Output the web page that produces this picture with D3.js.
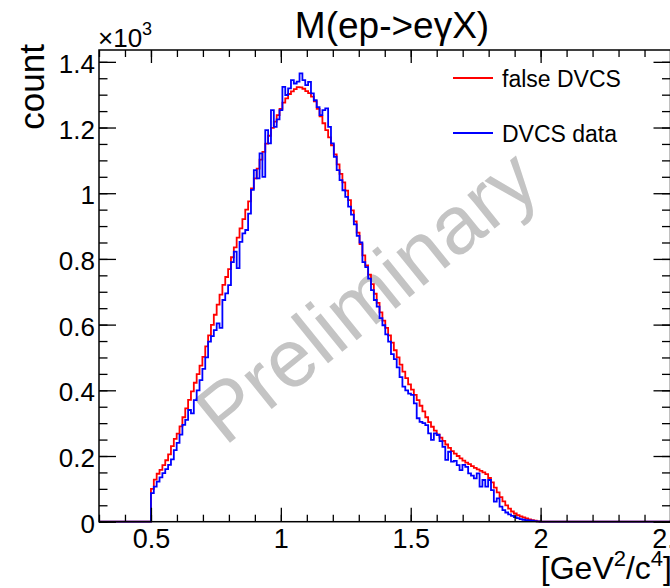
<!DOCTYPE html>
<html><head><meta charset="utf-8">
<script src="https://cdn.jsdelivr.net/npm/d3@7"></script>
<style>
body{margin:0;background:#fff;overflow:hidden}
svg{display:block}
text{font-family:"Liberation Sans",Arial,Helvetica,sans-serif;fill:#000}
</style>
</head><body>
<svg id="chart" width="670" height="588"></svg>
<script>
// Missing-mass histograms, M(ep->eγX): bins of 0.011 GeV²/c⁴ starting at 0.5
const binStart = 0.5;
const binWidth = 0.011;
const xDomain = [0.3, 2.5];
const yMax = 1436;

const falseDVCS = [
  100,128,146,158,172,187,205,230,252,268,
  290,318,345,371,397,423,449,475,502,534,
  567,599,630,661,691,721,745,769,805,835,
  865,893,921,950,975,1015,1045,1075,1102,1126,
  1151,1175,1199,1218,1238,1257,1276,1289,1302,1310,
  1317,1323,1322,1318,1311,1305,1294,1280,1257,1234,
  1213,1192,1170,1146,1118,1088,1059,1033,1008,979,
  948,914,880,845,811,780,752,723,694,666,
  637,612,590,567,545,522,500,478,457,437,
  418,402,386,370,353,336,318,303,289,277,
  266,256,246,235,225,215,207,200,193,186,
  180,175,169,164,159,155,150,145,133,120,
  104,89,75,62,50,40,31,25,20,16,
  13,10,7,5,3,1,0
];

const dvcsData = [
  87,107,122,135,148,160,173,190,218,240,
  265,295,310,340,330,370,400,431,465,500,
  548,565,583,604,590,675,695,720,790,822,
  772,852,878,888,938,1010,1070,1045,1121,1050,
  1192,1152,1253,1202,1225,1253,1324,1299,1319,1344,
  1334,1340,1365,1344,1329,1339,1304,1283,1262,1238,
  1253,1258,1202,1152,1111,1070,1040,1009,989,959,
  935,905,870,850,790,775,740,705,675,655,
  620,598,570,548,510,495,470,440,411,400,
  390,386,360,315,304,300,294,269,249,269,
  264,245,228,188,213,183,185,172,157,173,
  167,147,140,132,147,107,127,107,127,96,
  61,71,46,35,28,22,18,14,11,8,
  6,5,4,3,2,1,0
];

const seriesNames = ["false DVCS", "DVCS data"];
const seriesColors = ["#ff0000", "#0000ff"];

const xMajorTicks = [0.5, 1, 1.5, 2, 2.5];
const xTickLabels = ["0.5", "1", "1.5", "2", "2.5"];
const yMajorTicks = [0, 200, 400, 600, 800, 1000, 1200, 1400];
const yTickLabels = ["0", "0.2", "0.4", "0.6", "0.8", "1", "1.2", "1.4"];

const svg = d3.select("#chart");
const x = d3.scaleLinear().domain(xDomain).range([99, 670.5]);
const y = d3.scaleLinear().domain([0, yMax]).range([521.7, 50]);

const xMinor = d3.range(3, 26).map(d => d / 10);
const yMinor = d3.range(0, 29).map(d => d * 50);

// watermark behind the histograms
svg.append("text")
  .attr("transform", "translate(384,318) rotate(-39)")
  .attr("text-anchor", "middle")
  .style("font-size", "82px")
  .style("fill", "#c4c4c4")
  .text("Preliminary");

// histogram outlines
function histPoints(vals) {
  const pts = [[xDomain[0], 0]];
  vals.forEach((v, i) => pts.push([binStart + i * binWidth, v]));
  pts.push([binStart + vals.length * binWidth, 0]);
  pts.push([xDomain[1], 0]);
  return pts;
}
const line = d3.line().x(d => x(d[0])).y(d => y(d[1])).curve(d3.curveStepAfter);
[falseDVCS, dvcsData].forEach((vals, i) => {
  svg.append("path")
    .attr("d", line(histPoints(vals)))
    .attr("fill", "none")
    .attr("stroke", seriesColors[i])
    .attr("stroke-width", 1.8);
});

// axes: ticks drawn inward on all four sides
function styleAxis(g) {
  g.select(".domain").remove();
  g.selectAll("line").attr("stroke", "#000").attr("stroke-width", 1.3);
}
const yZero = y(0), yTop = y(yMax), xLeft = x(xDomain[0]), xRight = x(xDomain[1]);

svg.append("g").attr("transform", `translate(0,${yZero})`)
  .call(d3.axisBottom(x).tickValues(xMinor).tickSize(-7).tickFormat("")).call(styleAxis);
svg.append("g").attr("transform", `translate(0,${yZero})`)
  .call(d3.axisBottom(x).tickValues(xMajorTicks).tickSize(-14).tickPadding(7)
    .tickFormat((d, i) => xTickLabels[i])).call(styleAxis)
  .selectAll("text").style("font-size", "27px").attr("dy", "0.71em");

svg.append("g").attr("transform", `translate(0,${yTop})`)
  .call(d3.axisTop(x).tickValues(xMinor).tickSize(-7).tickFormat("")).call(styleAxis);
svg.append("g").attr("transform", `translate(0,${yTop})`)
  .call(d3.axisTop(x).tickValues(xMajorTicks).tickSize(-13).tickFormat("")).call(styleAxis);

svg.append("g").attr("transform", `translate(${xLeft},0)`)
  .call(d3.axisLeft(y).tickValues(yMinor).tickSize(-8.5).tickFormat("")).call(styleAxis);
svg.append("g").attr("transform", `translate(${xLeft},0)`)
  .call(d3.axisLeft(y).tickValues(yMajorTicks).tickSize(-17).tickPadding(4)
    .tickFormat((d, i) => yTickLabels[i])).call(styleAxis)
  .selectAll("text").style("font-size", "26px").attr("dy", "0.41em");

svg.append("g").attr("transform", `translate(${xRight},0)`)
  .call(d3.axisRight(y).tickValues(yMinor).tickSize(-8.5).tickFormat("")).call(styleAxis);
svg.append("g").attr("transform", `translate(${xRight},0)`)
  .call(d3.axisRight(y).tickValues(yMajorTicks).tickSize(-17).tickFormat("")).call(styleAxis);

// frame
svg.append("rect")
  .attr("x", xLeft).attr("y", yTop)
  .attr("width", xRight - xLeft).attr("height", yZero - yTop)
  .attr("fill", "none").attr("stroke", "#000").attr("stroke-width", 1.5);

// title
svg.append("text").attr("x", 392).attr("y", 38).attr("text-anchor", "middle")
  .style("font-size", "37px").text("M(ep->eγX)");

// exponent label
const expo = svg.append("text").attr("x", 98).attr("y", 47).style("font-size", "26px");
expo.append("tspan").text("×10");
expo.append("tspan").attr("dy", -12).style("font-size", "18px").text("3");

// axis titles
svg.append("text").attr("transform", "translate(44,44) rotate(-90)")
  .attr("text-anchor", "end").style("font-size", "35px").text("count");
const xt = svg.append("text").attr("x", 672).attr("y", 579).attr("text-anchor", "end")
  .style("font-size", "32px");
xt.append("tspan").text("[GeV");
xt.append("tspan").attr("dy", -13).style("font-size", "22px").text("2");
xt.append("tspan").attr("dy", 13).text("/c");
xt.append("tspan").attr("dy", -13).style("font-size", "22px").text("4");
xt.append("tspan").attr("dy", 13).text("]");

// legend
const legendY = [78, 133];
seriesNames.forEach((name, i) => {
  svg.append("line").attr("x1", 453).attr("x2", 493)
    .attr("y1", legendY[i]).attr("y2", legendY[i])
    .attr("stroke", seriesColors[i]).attr("stroke-width", 1.8);
  svg.append("text").attr("x", 502).attr("y", legendY[i] + 9)
    .style("font-size", "23px").text(name);
});
</script>
</body></html>
